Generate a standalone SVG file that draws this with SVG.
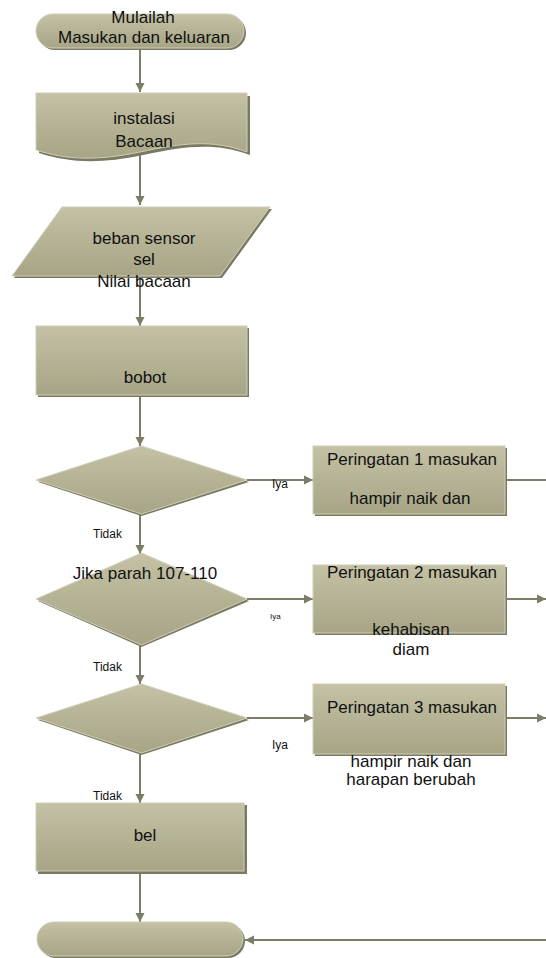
<svg xmlns="http://www.w3.org/2000/svg" width="546" height="958" viewBox="0 0 546 958">
<defs>
<linearGradient id="g" x1="0" y1="0" x2="0" y2="1">
<stop offset="0" stop-color="#c4c1a4"/>
<stop offset="1" stop-color="#a7a586"/>
</linearGradient>
<marker id="ah" viewBox="0 0 10 10" refX="10" refY="5" markerWidth="9" markerHeight="12" markerUnits="userSpaceOnUse" orient="auto">
<path d="M0,0 L10,5 L0,10 Z" fill="#7d7c66"/>
</marker>
<style>
.s{fill:url(#g);stroke:#cfcdb8;stroke-width:1}
.sh{fill:#7a7961}
.t{font-family:"Liberation Sans",Arial,sans-serif;font-size:17px;fill:#111;text-anchor:middle}
.l{font-family:"Liberation Sans",Arial,sans-serif;font-size:12px;fill:#111}
.c{stroke:#7d7c66;stroke-width:2;fill:none}
</style>
</defs>
<rect width="546" height="958" fill="#fff"/>
<g id="connectors">
<line class="c" x1="140" y1="48" x2="140" y2="92" marker-end="url(#ah)"/>
<line class="c" x1="140" y1="155" x2="140" y2="205" marker-end="url(#ah)"/>
<line class="c" x1="140" y1="276" x2="140" y2="326" marker-end="url(#ah)"/>
<line class="c" x1="140" y1="395" x2="140" y2="446" marker-end="url(#ah)"/>
<line class="c" x1="140" y1="514" x2="140" y2="554" marker-end="url(#ah)"/>
<line class="c" x1="140" y1="645" x2="140" y2="684" marker-end="url(#ah)"/>
<line class="c" x1="140" y1="753" x2="140" y2="803" marker-end="url(#ah)"/>
<line class="c" x1="140" y1="873" x2="140" y2="922" marker-end="url(#ah)"/>
<line class="c" x1="247" y1="480" x2="313" y2="480" marker-end="url(#ah)"/>
<line class="c" x1="247" y1="599" x2="313" y2="599" marker-end="url(#ah)"/>
<line class="c" x1="247" y1="718" x2="313" y2="718" marker-end="url(#ah)"/>
<line class="c" x1="507" y1="480" x2="546" y2="480"/>
<line class="c" x1="507" y1="599" x2="546" y2="599" marker-end="url(#ah)"/>
<line class="c" x1="507" y1="718" x2="546" y2="718" marker-end="url(#ah)"/>
<line class="c" x1="546" y1="940" x2="245" y2="940" marker-end="url(#ah)"/>
<text class="l" x="272" y="488">Iya</text>
<text class="l" x="270" y="619" style="font-size:8px">Iya</text>
<text class="l" x="272" y="749">Iya</text>
<text class="l" x="93" y="538">Tidak</text>
<text class="l" x="93" y="671">Tidak</text>
<text class="l" x="93" y="800">Tidak</text>
</g>
<g id="start">
<rect class="sh" x="38" y="16" width="208" height="34" rx="17"/>
<rect class="s" x="36" y="14" width="208" height="34" rx="17"/>
<text class="t" x="143" y="23">Mulailah</text>
<text class="t" x="144" y="43">Masukan dan keluaran</text>
</g>
<g id="instalasi">
<path class="sh" d="M39,96 H250 V155 C215,142 185,146 143,155 C100,164 70,163 39,153 Z"/>
<path class="s" d="M36,93 H247 V152 C212,139 182,143 140,152 C97,161 67,160 36,150 Z"/>
<text class="t" x="144" y="124">instalasi</text>
<text class="t" x="144" y="147">Bacaan</text>
</g>
<g id="sensor">
<path class="sh" d="M64,209 L272,209 L222,278 L14,278 Z"/>
<path class="s" d="M62,207 L270,207 L220,276 L12,276 Z"/>
<text class="t" x="144" y="244">beban sensor</text>
<text class="t" x="144" y="265">sel</text>
<text class="t" x="144" y="287">Nilai bacaan</text>
</g>
<g id="bobot">
<rect class="sh" x="38" y="328" width="211" height="69"/>
<rect class="s" x="36" y="326" width="211" height="69"/>
<text class="t" x="145" y="383">bobot</text>
</g>
<g id="decision1">
<path class="sh" d="M141.5,448 L249,482 L141.5,516 L38,482 Z"/>
<path class="s" d="M141.5,446 L247,480 L141.5,514 L36,480 Z"/>
</g>
<g id="warn1">
<rect class="sh" x="315" y="448" width="192" height="68"/>
<rect class="s" x="313" y="446" width="192" height="68"/>
<text class="t" x="412" y="465">Peringatan 1 masukan</text>
<text class="t" x="410" y="504">hampir naik dan</text>
</g>
<g id="decision2">
<path class="sh" d="M141.5,555 L249,601 L141.5,647 L38,601 Z"/>
<path class="s" d="M141.5,553 L247,599 L141.5,645 L36,599 Z"/>
<text class="t" x="145" y="579">Jika parah 107-110</text>
</g>
<g id="warn2">
<rect class="sh" x="315" y="567" width="192" height="68"/>
<rect class="s" x="313" y="565" width="192" height="68"/>
<text class="t" x="412" y="578">Peringatan 2 masukan</text>
<text class="t" x="411" y="635">kehabisan</text>
<text class="t" x="411" y="655">diam</text>
</g>
<g id="decision3">
<path class="sh" d="M141.5,686 L249,720 L141.5,755 L38,720 Z"/>
<path class="s" d="M141.5,684 L247,718 L141.5,753 L36,718 Z"/>
</g>
<g id="warn3">
<rect class="sh" x="315" y="686" width="192" height="70"/>
<rect class="s" x="313" y="684" width="192" height="70"/>
<text class="t" x="412" y="713">Peringatan 3 masukan</text>
<text class="t" x="411" y="767">hampir naik dan</text>
<text class="t" x="411" y="785">harapan berubah</text>
</g>
<g id="bel">
<rect class="sh" x="38" y="805" width="209" height="69"/>
<rect class="s" x="36" y="803" width="208" height="68"/>
<text class="t" x="145" y="841">bel</text>
</g>
<g id="end">
<rect class="sh" x="39" y="924" width="206" height="34" rx="17"/>
<rect class="s" x="37" y="922" width="206" height="34" rx="17"/>
</g>
</svg>
